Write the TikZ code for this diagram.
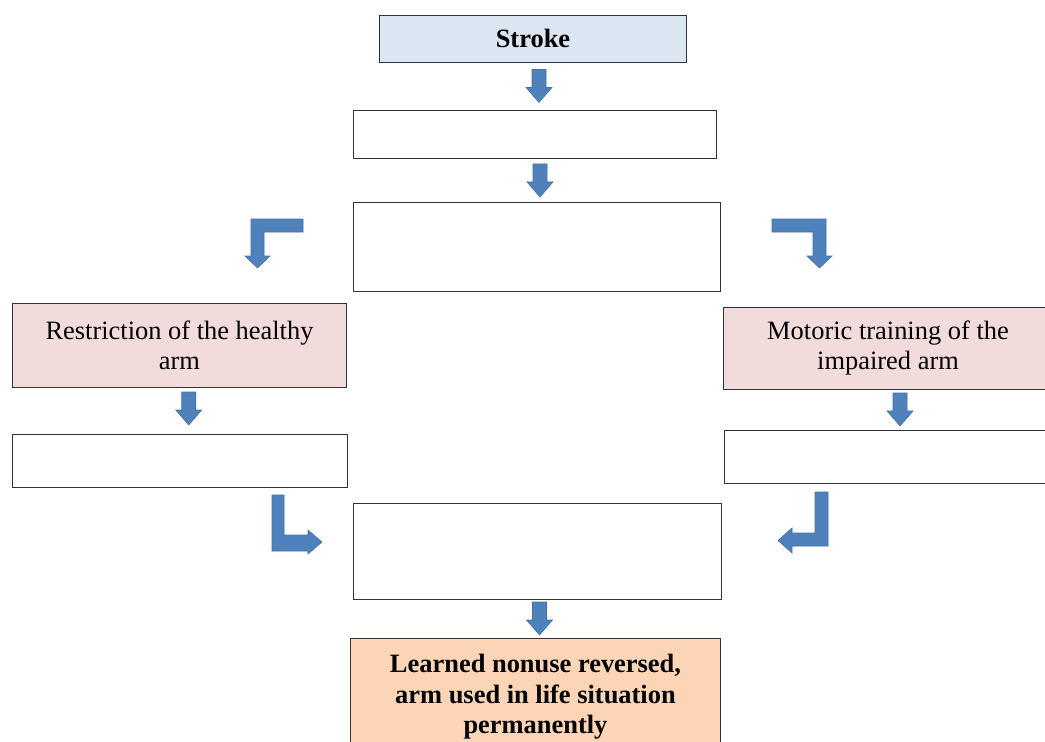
\documentclass[tikz,border=0pt]{standalone}
\usepackage{fontspec}
\setmainfont{Liberation Serif}
\usepackage{tikz}
\usetikzlibrary{calc}

\definecolor{arrowblue}{HTML}{4F81BD}
\definecolor{arrowedge}{HTML}{41719C}
\definecolor{strokeblue}{HTML}{DCE6F2}
\definecolor{stagepink}{HTML}{F2DCDB}
\definecolor{resultpeach}{HTML}{FBD5B5}

\begin{document}
\begin{tikzpicture} [
    x=0.025cm, y=-0.025cm,
    every node/.style = {draw=black!80, line width=0.7pt, align=center,
        font=\fontsize{18.8}{21.3}\selectfont, inner sep=0pt},
    arrowfill/.style = {fill=arrowblue, draw=arrowedge, line width=0.4pt},
    downarrow/.pic = {
        \filldraw[arrowfill] (-7,-16.5) -- (7,-16.5) -- (7,1.5) -- (13,1.5)
            -- (0,16.5) -- (-13,1.5) -- (-7,1.5) -- cycle;
    }
]
    \useasboundingbox (0,0) rectangle (1045,742);
    \clip (0,0) rectangle (1045,742);

    % boxes
    \node [fill=strokeblue, minimum width=7.65cm, minimum height=1.175cm,
        font=\fontsize{18.8}{21.3}\selectfont\bfseries] (stroke) at (533,38.5) {\raisebox{-2pt}{Stroke}};
    \node [minimum width=9.05cm, minimum height=1.2cm] (blankA) at (535,134) {};
    \node [minimum width=9.15cm, minimum height=2.2cm] (blankB) at (537,247) {};
    \node [fill=stagepink, minimum width=8.325cm, minimum height=2.075cm]
        (restrict) at (179.5,345.5) {Restriction of the healthy\\arm};
    \node [fill=stagepink, minimum width=8.2cm, minimum height=2.05cm]
        (motoric) at (888,348) {Motoric training of the\\impaired arm};
    \node [minimum width=8.35cm, minimum height=1.325cm] (blankL) at (180,460.5) {};
    \node [minimum width=8.2cm, minimum height=1.325cm] (blankR) at (889,456.5) {};
    \node [minimum width=9.175cm, minimum height=2.4cm] (blankC) at (537.5,551) {};
    \node [fill=resultpeach, minimum width=9.225cm, minimum height=2.95cm,
        font=\fontsize{18.8}{21.6}\selectfont\bfseries]
        (result) at (535.5,697) {Learned nonuse reversed,\\arm used in life situation\\permanently};

    % straight arrows
    \pic at ($(stroke.south)!0.5!(blankA.north) + (5,0)$) {downarrow};
    \pic at ($(blankA.south)!0.5!(blankB.north) + (4,0)$) {downarrow};
    \pic at ($(restrict.south)!0.5!(blankL.north) + (9,-2)$) {downarrow};
    \pic at ($(motoric.south)!0.5!(blankR.north) + (11.5,0)$) {downarrow};
    \pic at ($(blankC.south)!0.5!(result.north) + (3,0)$) {downarrow};

    % bent arrows
    \filldraw[arrowfill] (303,219) -- (303,232) -- (264,232) -- (264,256) -- (270,256)
        -- (257.5,268) -- (245,256) -- (251,256) -- (251,219) -- cycle;
    \filldraw[arrowfill] (772,219) -- (826,219) -- (826,256) -- (832,256) -- (819.5,268)
        -- (807,256) -- (813,256) -- (813,232) -- (772,232) -- cycle;
    \filldraw[arrowfill] (272,495) -- (284,495) -- (284,535) -- (308,535) -- (308,530)
        -- (322,542) -- (308,554) -- (308,551) -- (272,551) -- cycle;
    \filldraw[arrowfill] (815,492) -- (828,492) -- (828,546) -- (792,546) -- (792,553)
        -- (778,540.5) -- (792,528) -- (792,533) -- (815,533) -- cycle;
\end{tikzpicture}
\end{document}
